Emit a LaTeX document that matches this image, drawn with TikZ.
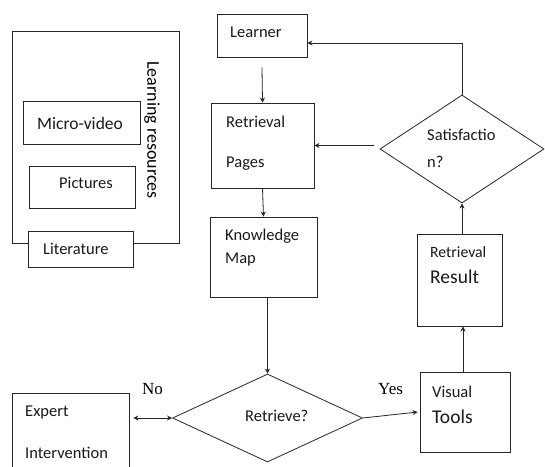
\documentclass[tikz,border=0pt]{standalone}
\usepackage{fontspec}
\setmainfont{Carlito}
\newfontfamily\serifyn{Liberation Serif}
\usetikzlibrary{shapes.geometric,arrows.meta}
\begin{document}
\begin{tikzpicture}[x=1pt,y=-1pt,
  box/.style={draw=black!85,line width=0.8pt,rectangle,inner sep=0pt},
  dia/.style={draw=black!85,line width=0.8pt,diamond,inner sep=0pt},
  txt/.style={anchor=base west,inner sep=0pt,font=\fontsize{16.5}{18}\selectfont,text=black!90},
  big/.style={txt,font=\fontsize{19.5}{22}\selectfont},
  yn/.style={anchor=base west,inner sep=0pt,font=\serifyn\fontsize{17}{19}\selectfont},
  arr/.style={draw=black!85,line width=0.8pt,-{Stealth[length=5pt,width=5pt]}}]
\useasboundingbox (0,0) rectangle (545,466);
\fill[white] (0,0) rectangle (545,466);
% learning resources group
\node[box,minimum width=167,minimum height=212] (lr) at (95.5,137) {};
\node[box,minimum width=117,minimum height=43] (micro) at (81.5,122.5) {};
\node[box,minimum width=106,minimum height=42] (pic) at (82,187) {};
\node[box,fill=white,minimum width=105,minimum height=36] (lit) at (80.5,249) {};
\node[txt,font=\fontsize{17.5}{20}\selectfont] (tmicro) at (37,129) {Micro-video};
\node[txt] (tpic) at (59,188) {Pictures};
\node[txt] (tlit) at (43,254) {Literature};
\node[inner sep=0pt,rotate=-90,font=\fontsize{18}{20}\selectfont] (tlr) at (152,130) {Learning resources};
% flow boxes
\node[box,minimum width=90,minimum height=43] (learner) at (262,35.5) {};
\node[box,minimum width=103,minimum height=85] (pages) at (262.5,145.5) {};
\node[box,minimum width=107,minimum height=80] (km) at (263.5,257) {};
\node[box,minimum width=85,minimum height=92] (result) at (459.5,280) {};
\node[box,minimum width=90,minimum height=80] (visual) at (465,412) {};
\node[box,minimum width=117,minimum height=87] (expert) at (70.5,436.5) {};
\node[dia,minimum width=164,minimum height=108] (sat) at (462,149) {};
\node[dia,minimum width=190,minimum height=88] (ret) at (267.5,418) {};
% texts
\node[txt] (tlearner) at (230,37) {Learner};
\node[txt] (tp1) at (226,127) {Retrieval};
\node[txt] (tp2) at (226,167) {Pages};
\node[txt] (ts1) at (427,140) {Satisfactio};
\node[txt] (ts2) at (427,167) {n?};
\node[txt] (tk1) at (225,240) {Knowledge};
\node[txt] (tk2) at (225,263) {Map};
\node[txt,font=\fontsize{15.7}{18}\selectfont] (tr1) at (430,257) {Retrieval};
\node[big] (tr2) at (430,283) {Result};
\node[txt] (tv1) at (432,397) {Visual};
\node[big] (tv2) at (432,423) {Tools};
\node[txt] (tret) at (245,421) {Retrieve?};
\node[txt] (te1) at (25,416) {Expert};
\node[txt] (te2) at (25,458) {Intervention};
\node[yn] (yes) at (378,394) {Yes};
\node[yn] (no) at (142,394) {No};
% connectors
\draw[arr] ([yshift=-10pt]learner.south) -- (pages.north);
\draw[arr] (pages.south) -- (km.north);
\draw[arr] (km.south -| ret.north) -- (ret.north);
\draw[arr] (ret.east) -- ([xshift=-2pt]visual.west);
\draw[arr] ([xshift=-2pt]visual.north) -- ([xshift=-2pt]visual.north |- result.south);
\draw[arr] (result.north -| sat.south) -- (sat.south);
\draw[arr] (sat.north) |- ([yshift=-7.5pt]learner.east);
\coordinate (s1) at ([xshift=-6pt]sat.west);
\draw[arr] (s1 |- pages.east) -- (pages.east);
\draw[draw=black!85,line width=0.8pt,{Stealth[length=5pt,width=5pt]}-{Stealth[length=5pt,width=5pt]},shorten >=4pt] (ret.west) -- (ret.west -| expert.east);
\end{tikzpicture}
\end{document}
